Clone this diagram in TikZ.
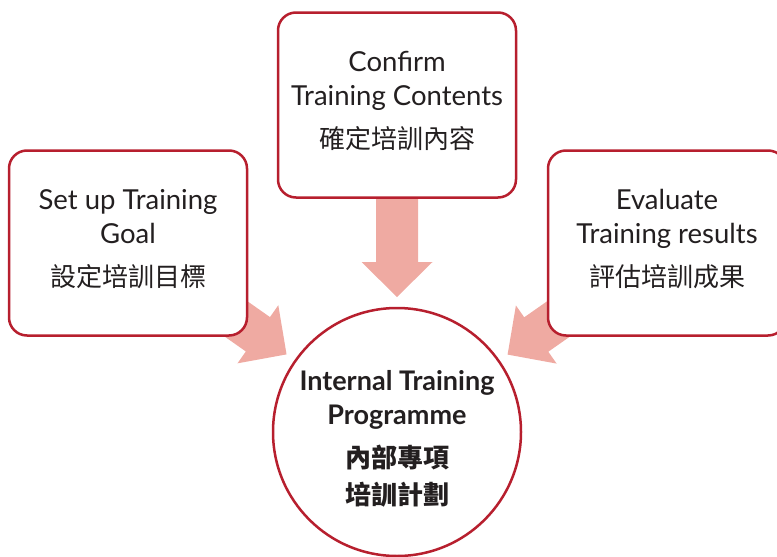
\documentclass[tikz,border=0pt]{standalone}
\usepackage{fontspec}
\setmainfont{Lato}
\newfontfamily\cjk{Noto Sans CJK TC}
\usetikzlibrary{calc,backgrounds}
\definecolor{boxred}{HTML}{B71F2E}
\definecolor{arrowpink}{HTML}{EFAAA2}
\definecolor{inkgray}{HTML}{231F20}
\tikzset{
  stepbox/.style={draw=boxred, line width=2.5pt, fill=white, rounded corners=18pt,
    minimum width=238pt, minimum height=185pt, align=center, text=inkgray,
    font=\fontsize{27.5}{34}\selectfont},
  plancircle/.style={circle, draw=boxred, line width=2.5pt, fill=white,
    minimum size=248pt, inner sep=0pt, align=center, text=inkgray,
    font=\bfseries\fontsize{27}{34}\selectfont},
}
\newcommand{\zh}[1]{{\cjk\fontsize{26}{34}\selectfont #1\rule[-11pt]{0pt}{0pt}}}
% fat arrow from box #1 towards circle #2
\newcommand{\fatarrow}[2]{%
  \coordinate (tip) at ($(#2.center)!135pt!(#1.center)$);
  \coordinate (base) at ($(tip)!35pt!(#1.center)$);
  \fill[arrowpink] ($(#1.center)!21pt!90:(tip)$) -- ($(base)!21pt!-90:(#1.center)$)
    -- ($(base)!35.5pt!-90:(#1.center)$) -- (tip) -- ($(base)!35.5pt!90:(#1.center)$)
    -- ($(base)!21pt!90:(#1.center)$) -- ($(#1.center)!21pt!-90:(tip)$) -- cycle;
}
\begin{document}
\begin{tikzpicture}[x=1pt,y=-1pt]
        \useasboundingbox (0,0) rectangle (777,557);
        \node[stepbox] (goal) at (128,243) {Set up Training\\Goal\\[9pt]\zh{設定培訓目標}};
        \node[stepbox] (contents) at (397,105) {Confirm\\Training Contents\\[9pt]\zh{確定培訓內容}};
        \node[stepbox] (results) at (667,243) {Evaluate\\Training results\\[9pt]\zh{評估培訓成果}};
        \node[plancircle] (plan) at (397,432) {\rule{0pt}{34pt}Internal Training\\Programme\\[9pt]
          {\cjk\fontsize{26}{34}\selectfont 內部專項}\\[3pt]{\cjk\fontsize{26}{34}\selectfont 培訓計劃}};
        \begin{scope}[on background layer]
        \fatarrow{goal}{plan}
        \fatarrow{contents}{plan}
        \fatarrow{results}{plan}
        \end{scope}
\end{tikzpicture}
\end{document}
